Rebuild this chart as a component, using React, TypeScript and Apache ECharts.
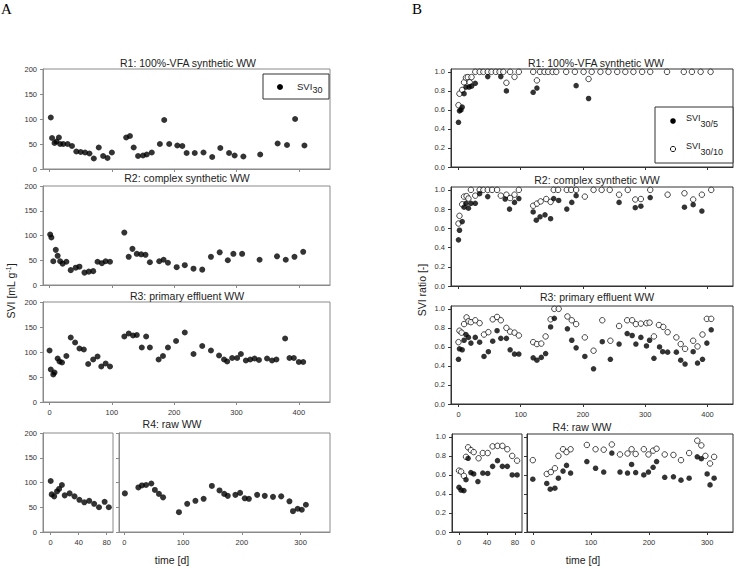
import React, { useEffect, useRef } from 'react';
import * as echarts from 'echarts';

type P = [number, number][];

// ---------- tick values ----------
const A_X_TICKS = [0, 100, 200, 300, 400];
const R4_LEFT_TICKS = [0, 40, 80];
const R4_RIGHT_TICKS = [0, 100, 200, 300];
const A_Y_TICKS = [0, 50, 100, 150, 200];
const B_Y_TICKS = [0, 0.2, 0.4, 0.6, 0.8, 1.0];

// ---------- panel A : SVI30 [mL/g] ----------
const A_R1: P = [[2,103],[4,62],[8,52],[11,55],[15,63],[17,50],[22,50],[29,50],[36,46],[43,35],[50,34],[57,33],[64,31],[71,21],[79,43],[86,26],[93,22],[100,33],[123,63],[129,66],[135,43],[142,26],[150,27],[156,29],[164,33],[177,50],[184,98],[192,50],[205,47],[213,46],[220,32],[233,32],[247,33],[261,24],[274,42],[288,32],[297,27],[311,25],[338,29],[366,51],[381,48],[394,100],[409,47]];
const A_R2: P = [[1,102],[3,96],[6,48],[10,71],[13,59],[17,48],[21,43],[27,47],[34,30],[42,35],[48,37],[56,25],[63,27],[70,28],[77,47],[84,44],[90,48],[97,47],[120,106],[127,57],[133,73],[140,63],[147,62],[154,61],[161,46],[176,48],[183,51],[190,45],[204,36],[217,40],[231,33],[245,31],[259,57],[273,66],[286,50],[295,63],[309,63],[337,51],[365,58],[379,51],[393,57],[407,67]];
const A_R3: P = [[0,103],[2,65],[6,55],[8,59],[13,87],[16,81],[20,79],[27,92],[34,129],[41,119],[48,107],[55,105],[62,76],[70,85],[77,91],[83,71],[90,77],[97,71],[120,131],[127,137],[134,133],[140,134],[148,109],[155,131],[161,109],[175,85],[182,92],[190,109],[203,122],[217,139],[231,96],[245,112],[259,103],[272,93],[280,85],[285,81],[293,88],[301,88],[307,96],[315,83],[322,85],[329,87],[336,84],[349,87],[357,83],[364,85],[378,127],[385,88],[392,88],[400,80],[407,80]];
const A_R4_LEFT: P = [[0,103],[1.4,76],[5,72],[9,82],[12,87],[16,95],[20,74],[27,78],[34,72],[41,65],[48,60],[55,63],[62,57],[69,50],[77,61],[83,50]];
const A_R4_RIGHT: P = [[1,78],[24,90],[30,94],[37,95],[46,98],[52,85],[59,77],[66,70],[93,40],[107,57],[121,63],[135,67],[149,93],[162,84],[170,77],[176,73],[189,75],[197,79],[205,68],[212,67],[226,75],[239,73],[253,71],[267,72],[281,62],[287,42],[295,47],[302,45],[309,55]];

// ---------- panel B : SVI ratios ----------
const B_R1_305: P = [[0,0.47],[1.6,0.59],[4,0.6],[6,0.63],[9,0.77],[12,0.84],[17,0.84],[21,0.85],[27,0.88],[47,0.95],[68,0.95],[77,0.8],[120,0.785],[126,0.83],[189,0.855],[209,0.72]];
const B_R1_3010: P = [[0,0.65],[1.6,0.77],[6,0.81],[9,0.89],[12,0.94],[15,0.945],[18,0.89],[21,0.945],[27,1],[34,1],[40,1],[47,1],[53,1],[60,1],[66,1],[72,1],[77,0.885],[83,1],[90,0.947],[97,1],[120,1],[126,0.91],[131,1],[138,1],[144,1],[151,1],[157,1],[173,1],[187,1],[201,1],[209,0.925],[214,1],[228,1],[241,1],[255,1],[268,1],[281,1],[295,1],[308,1],[335,1],[362,1],[375,1],[389,1],[405,1]];
const B_R2_305: P = [[0,0.48],[1.6,0.58],[6,0.67],[9,0.82],[12,0.86],[16,0.81],[20,0.86],[27,0.86],[34,0.96],[47,0.93],[75,0.905],[82,0.8],[90,0.87],[97,0.91],[120,0.77],[125,0.685],[131,0.72],[139,0.74],[148,0.7],[153,0.91],[161,0.89],[174,0.8],[182,0.87],[189,0.94],[258,0.87],[284,0.815],[293,0.83],[308,0.92],[363,0.82],[377,0.846],[391,0.78]];
const B_R2_3010: P = [[0,0.65],[1.6,0.73],[6,0.85],[9,0.93],[13,0.935],[16,0.91],[20,1],[27,0.94],[34,1],[40,1],[47,1],[54,1],[62,1],[68,0.94],[77,0.95],[83,0.915],[90,0.95],[97,1],[120,0.835],[126,0.857],[132,0.88],[141,0.905],[148,0.875],[153,1],[160,1],[174,1],[181,1],[189,1],[203,0.93],[217,1],[230,1],[243,1],[258,0.95],[272,1],[284,0.9],[293,0.905],[308,1],[336,0.95],[363,0.965],[377,0.9],[391,0.95],[406,1]];
const B_R3_305: P = [[0,0.47],[1.6,0.58],[6,0.57],[9,0.67],[12,0.73],[16,0.7],[20,0.64],[27,0.7],[34,0.65],[41,0.5],[48,0.55],[55,0.66],[62,0.77],[68,0.69],[77,0.69],[83,0.57],[90,0.525],[97,0.525],[120,0.486],[126,0.46],[133,0.49],[140,0.53],[148,0.81],[154,0.9],[175,0.79],[182,0.67],[189,0.59],[203,0.5],[217,0.37],[231,0.655],[244,0.47],[258,0.63],[271,0.74],[279,0.72],[285,0.63],[293,0.7],[302,0.61],[307,0.67],[314,0.48],[323,0.6],[328,0.55],[336,0.545],[350,0.545],[357,0.46],[364,0.42],[377,0.55],[384,0.43],[392,0.47],[399,0.64],[406,0.78]];
const B_R3_3010: P = [[0,0.65],[1.6,0.77],[5,0.75],[9,0.84],[13,0.91],[16,0.87],[20,0.86],[27,0.88],[34,0.85],[41,0.73],[48,0.755],[55,0.89],[62,0.915],[68,0.88],[77,0.8],[83,0.76],[90,0.75],[97,0.72],[120,0.65],[126,0.63],[133,0.635],[140,0.71],[148,0.89],[154,1],[161,1],[175,0.92],[182,0.88],[189,0.84],[203,0.7],[217,0.56],[231,0.88],[244,0.665],[258,0.82],[271,0.88],[279,0.88],[285,0.84],[293,0.845],[302,0.85],[307,0.855],[314,0.71],[322,0.83],[329,0.81],[336,0.755],[350,0.7],[357,0.63],[364,0.58],[377,0.665],[384,0.605],[392,0.73],[399,0.895],[406,0.895]];
const B_R4L_305: P = [[0,0.47],[3,0.44],[7,0.435],[10,0.55],[13,0.775],[17,0.625],[21,0.61],[27,0.53],[34,0.62],[41,0.615],[48,0.69],[55,0.75],[62,0.69],[69,0.69],[76,0.6],[83,0.6]];
const B_R4L_3010: P = [[0,0.645],[3,0.635],[7,0.59],[10,0.79],[13,0.89],[17,0.86],[21,0.84],[28,0.775],[34,0.83],[41,0.83],[48,0.9],[55,0.905],[62,0.905],[69,0.87],[76,0.8],[83,0.75]];
const B_R4R_305: P = [[0,0.555],[24,0.51],[30,0.45],[38,0.46],[44,0.565],[52,0.64],[58,0.7],[65,0.62],[93,0.74],[108,0.67],[122,0.63],[136,0.83],[150,0.63],[163,0.62],[170,0.71],[177,0.625],[191,0.6],[199,0.63],[207,0.68],[213,0.74],[227,0.575],[242,0.58],[255,0.545],[269,0.565],[283,0.79],[290,0.77],[300,0.61],[305,0.495],[312,0.565]];
const B_R4R_3010: P = [[0,0.755],[24,0.61],[31,0.63],[38,0.67],[44,0.8],[52,0.87],[58,0.84],[65,0.87],[93,0.915],[108,0.87],[122,0.865],[136,0.92],[150,0.815],[163,0.825],[170,0.87],[177,0.82],[191,0.87],[199,0.815],[207,0.855],[213,0.875],[227,0.815],[242,0.81],[255,0.755],[269,0.83],[283,0.96],[290,0.91],[297,0.8],[305,0.72],[312,0.79]];

const FONT = '"Liberation Sans", Arial, Helvetica, sans-serif';
const COL_A = '#8a8a8a';
const COL_B = '#333333';
const LBL = '#333333';

function xAx(gridIndex: number, min: number, max: number, ticks: number[], show: boolean, color: string) {
  return {
    type: 'value', gridIndex, min, max, position: 'bottom',
    axisLine: { show: true, onZero: false, lineStyle: { color, width: 1 } },
    axisTick: { show: true, length: 3, customValues: ticks, lineStyle: { color } },
    axisLabel: { show, customValues: ticks, fontSize: 7.5, color: LBL, margin: 6, fontFamily: FONT },
    splitLine: { show: false },
  };
}
function yAx(gridIndex: number, min: number, max: number, ticks: number[], show: boolean, color: string, dec: number) {
  return {
    type: 'value', gridIndex, min, max, position: 'left',
    axisLine: { show: true, onZero: false, lineStyle: { color, width: 1 } },
    axisTick: { show: true, length: 3, customValues: ticks, lineStyle: { color } },
    axisLabel: {
      show, customValues: ticks, fontSize: 7.5, color: LBL, margin: 6, fontFamily: FONT,
      formatter: (v: number) => v.toFixed(dec),
    },
    splitLine: { show: false },
  };
}
function sc(data: P, idx: number, filled: boolean, size: number) {
  return {
    type: 'scatter', xAxisIndex: idx, yAxisIndex: idx, data, symbol: 'circle', symbolSize: size,
    silent: true, z: filled ? 3 : 2,
    itemStyle: filled ? { color: '#000' } : { color: '#fff', borderColor: '#000', borderWidth: 0.9 },
    emphasis: { disabled: true },
  };
}
function txt(x: number, y: number, text: string, size: number, extra: any = {}) {
  return {
    type: 'text', x, y, silent: true, ...extra,
    style: {
      text, fontSize: size, fontFamily: FONT, fill: '#222',
      align: extra.align || 'center', textAlign: extra.align || 'center',
      verticalAlign: 'middle', textVerticalAlign: 'middle',
      ...(extra.style || {}),
    },
  };
}

export default function App() {
  const ref = useRef<HTMLDivElement>(null);
  useEffect(() => {
    const chart = echarts.init(ref.current!, null, { renderer: 'svg' });
    const gA = (left: number, top: number, width: number, height: number, c: string) =>
      ({ left, top, width, height, show: true, borderColor: c, borderWidth: 1, backgroundColor: 'transparent' });

    const grid = [
      gA(43, 69, 287, 100, COL_A),
      gA(43, 186, 287, 99, COL_A),
      gA(43, 302, 287, 100, COL_A),
      gA(43, 433, 70, 99, COL_A),
      gA(119, 433, 211, 99, COL_A),
      gA(451, 69, 282, 98, COL_B),
      gA(451, 187, 282, 99, COL_B),
      gA(451, 306, 282, 98, COL_B),
      gA(452, 434, 70, 98, COL_B),
      gA(527, 434, 206, 98, COL_B),
    ];
    const xAxis = [
      xAx(0, -10.5, 450, A_X_TICKS, false, COL_A),
      xAx(1, -10.5, 450, A_X_TICKS, false, COL_A),
      xAx(2, -10.5, 450, A_X_TICKS, true, COL_A),
      xAx(3, -11, 89, R4_LEFT_TICKS, true, COL_A),
      xAx(4, -9, 350, R4_RIGHT_TICKS, true, COL_A),
      xAx(5, -12, 441, A_X_TICKS, false, COL_B),
      xAx(6, -12, 441, A_X_TICKS, false, COL_B),
      xAx(7, -12, 441, A_X_TICKS, true, COL_B),
      xAx(8, -10, 90, R4_LEFT_TICKS, true, COL_B),
      xAx(9, -10, 344.5, R4_RIGHT_TICKS, true, COL_B),
    ];
    const yAxis = [
      yAx(0, 0, 200, A_Y_TICKS, true, COL_A, 0),
      yAx(1, 0, 200, A_Y_TICKS, true, COL_A, 0),
      yAx(2, 0, 200, A_Y_TICKS, true, COL_A, 0),
      yAx(3, 0, 200, A_Y_TICKS, true, COL_A, 0),
      yAx(4, 0, 200, A_Y_TICKS, false, COL_A, 0),
      yAx(5, 0, 1.03, B_Y_TICKS, true, COL_B, 1),
      yAx(6, 0, 1.03, B_Y_TICKS, true, COL_B, 1),
      yAx(7, 0, 1.03, B_Y_TICKS, true, COL_B, 1),
      yAx(8, 0, 1.03, B_Y_TICKS, true, COL_B, 1),
      yAx(9, 0, 1.03, B_Y_TICKS, false, COL_B, 1),
    ];
    const series = [
      sc(A_R1, 0, true, 6), sc(A_R2, 1, true, 6), sc(A_R3, 2, true, 6),
      sc(A_R4_LEFT, 3, true, 6), sc(A_R4_RIGHT, 4, true, 6),
      sc(B_R1_3010, 5, false, 5.5), sc(B_R1_305, 5, true, 5.5),
      sc(B_R2_3010, 6, false, 5.5), sc(B_R2_305, 6, true, 5.5),
      sc(B_R3_3010, 7, false, 5.5), sc(B_R3_305, 7, true, 5.5),
      sc(B_R4L_3010, 8, false, 5.5), sc(B_R4L_305, 8, true, 5.5),
      sc(B_R4R_3010, 9, false, 5.5), sc(B_R4R_305, 9, true, 5.5),
    ];
    const graphic = [
      { type: 'text', x: 1, y: 9, silent: true, style: { text: 'A', fontSize: 15, fontFamily: '"Liberation Serif", "Times New Roman", serif', fill: '#000', align: 'left', textAlign: 'left', verticalAlign: 'middle', textVerticalAlign: 'middle' } },
      { type: 'text', x: 412, y: 9, silent: true, style: { text: 'B', fontSize: 15, fontFamily: '"Liberation Serif", "Times New Roman", serif', fill: '#000', align: 'left', textAlign: 'left', verticalAlign: 'middle', textVerticalAlign: 'middle' } },
      txt(188, 63, 'R1: 100%-VFA synthetic WW', 10.5),
      txt(187, 178, 'R2: complex synthetic WW', 10.5),
      txt(187, 296, 'R3: primary effluent WW', 10.5),
      txt(172, 424, 'R4: raw WW', 10.5),
      txt(596, 63, 'R1: 100%-VFA synthetic WW', 10.5),
      txt(597, 180, 'R2: complex synthetic WW', 10.5),
      txt(597, 297, 'R3: primary effluent WW', 10.5),
      txt(582, 427, 'R4: raw WW', 10.5),
      txt(172, 560, 'time [d]', 10.5),
      txt(583, 560, 'time [d]', 10.5),
      {
        type: 'text', x: 11, y: 291, rotation: Math.PI / 2, silent: true,
        style: {
          text: '{a|SVI [mL g}{b|-1}{a|]}',
          align: 'center', textAlign: 'center', verticalAlign: 'middle', textVerticalAlign: 'middle',
          fill: '#222', fontFamily: FONT, fontSize: 10.5,
          rich: {
            a: { fontSize: 10.5, fontFamily: FONT, fill: '#222' },
            b: { fontSize: 7, fontFamily: FONT, fill: '#222', padding: [0, 0, 6, 0] },
          },
        },
      },
      {
        type: 'text', x: 422, y: 290, rotation: Math.PI / 2, silent: true,
        style: {
          text: 'SVI ratio [-]', fontSize: 10.5, fontFamily: FONT, fill: '#222',
          align: 'center', textAlign: 'center', verticalAlign: 'middle', textVerticalAlign: 'middle',
        },
      },
      // legend A
      { type: 'rect', silent: true, z: 10, shape: { x: 263, y: 74, width: 66, height: 25 }, style: { fill: '#fff', stroke: '#333', lineWidth: 1 } },
      { type: 'circle', silent: true, z: 11, shape: { cx: 280, cy: 87, r: 3 }, style: { fill: '#000' } },
      { ...txt(297, 86, 'SVI', 9.5, { align: 'left' }), z: 11 },
      { ...txt(312.5, 89.5, '30', 9, { align: 'left' }), z: 11 },
      // legend B
      { type: 'rect', silent: true, z: 10, shape: { x: 655, y: 107, width: 78, height: 56 }, style: { fill: '#fff', stroke: '#333', lineWidth: 1 } },
      { type: 'circle', silent: true, z: 11, shape: { cx: 673, cy: 121, r: 2.8 }, style: { fill: '#000' } },
      { ...txt(686, 118, 'SVI', 9, { align: 'left' }), z: 11 },
      { ...txt(700.5, 124, '30/5', 9, { align: 'left' }), z: 11 },
      { type: 'circle', silent: true, z: 11, shape: { cx: 673, cy: 149, r: 2.6 }, style: { fill: '#fff', stroke: '#000', lineWidth: 0.9 } },
      { ...txt(686, 146, 'SVI', 9, { align: 'left' }), z: 11 },
      { ...txt(700.5, 152, '30/10', 9, { align: 'left' }), z: 11 },
    ];
    chart.setOption({
      animation: false,
      backgroundColor: '#fff',
      textStyle: { fontFamily: FONT },
      grid, xAxis, yAxis, series, graphic,
    });
    return () => chart.dispose();
  }, []);
  return (
    <div
      ref={ref}
      style={{ position: 'fixed', left: 0, top: 0, width: 741, height: 569, background: '#fff' }}
    />
  );
}
